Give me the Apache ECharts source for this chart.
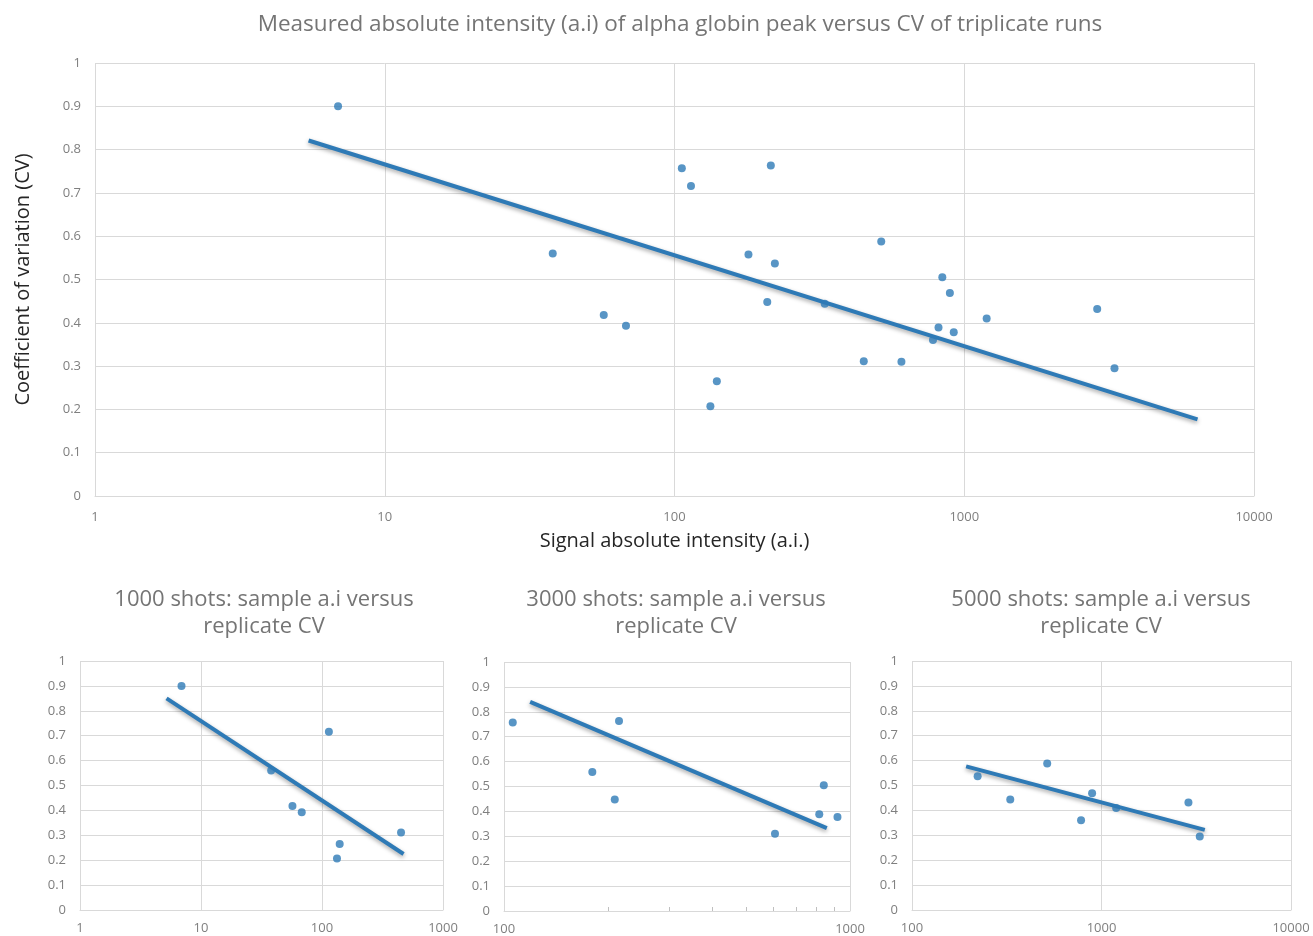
<!DOCTYPE html>
<html>
<head>
<meta charset="utf-8">
<title>alpha globin CV</title>
<script src="https://cdn.jsdelivr.net/npm/echarts@6/dist/echarts.min.js"></script>
<style>
    html, body { margin: 0; padding: 0; background: #fff; }
    #main { width: 1313px; height: 936px; }
</style>
</head>
<body>
<div id="main"></div>
<script>
// 数据: [信号强度 a.i, CV]
var shots1000 = [[6.9, 0.90], [38, 0.56], [57, 0.418], [68, 0.393], [114, 0.716], [133, 0.207], [140, 0.265], [450, 0.311]];
var shots3000 = [[106, 0.757], [180, 0.558], [209, 0.448], [215, 0.763], [607, 0.31], [815, 0.389], [840, 0.505], [920, 0.378]];
var shots5000 = [[222, 0.537], [330, 0.444], [517, 0.588], [780, 0.36], [892, 0.469], [1195, 0.41], [2876, 0.432], [3300, 0.295]];
var allShots = shots1000.concat(shots3000, shots5000);

// 趋势线两端
var trendAll = [[5.46, 0.821], [6383, 0.177]];
var trend1000 = [[5.19, 0.85], [472, 0.225]];
var trend3000 = [[119, 0.84], [857, 0.333]];
var trend5000 = [[193, 0.577], [3508, 0.322]];

var xRanges = [[1, 10000], [1, 1000], [100, 1000], [100, 10000]];
var yTicks = [0, 1, 0.1];

var mainTitle = 'Measured absolute intensity (a.i) of alpha globin peak versus CV of triplicate runs';
var subTitles = ['1000 shots: sample a.i versus\nreplicate CV', '3000 shots: sample a.i versus\nreplicate CV', '5000 shots: sample a.i versus\nreplicate CV'];

var blue = '#2e7ab6';
var gridColor = '#d9d9d9';
var labelColor = '#7f7f7f';
var font = '"Open Sans", "Noto Sans", sans-serif';

var myChart = echarts.init(document.getElementById('main'));

function makeX(i, extra) {
    var ax = {
        type: 'log',
        logBase: 10,
        gridIndex: i,
        min: xRanges[i][0],
        max: xRanges[i][1],
        axisLine: { lineStyle: { color: gridColor } },
        axisTick: { show: false, inside: true },
        splitLine: { show: true, lineStyle: { color: gridColor } },
        axisLabel: {
            color: labelColor,
            fontFamily: font,
            fontSize: 13,
            margin: i == 0 ? 15 : 12,
            formatter: function (v) { return String(v); }
        }
    };
    return Object.assign(ax, extra || {});
}

function makeY(i, extra) {
    var ax = {
        type: 'value',
        gridIndex: i,
        min: yTicks[0],
        max: yTicks[1],
        interval: yTicks[2],
        axisLine: { show: false },
        axisTick: { show: false },
        splitLine: { show: true, lineStyle: { color: gridColor } },
        axisLabel: {
            color: labelColor,
            fontFamily: font,
            fontSize: 13,
            margin: 14
        }
    };
    return Object.assign(ax, extra || {});
}

function dots(data, i) {
    return {
        type: 'scatter',
        xAxisIndex: i,
        yAxisIndex: i,
        data: data,
        symbolSize: 8,
        itemStyle: { color: blue },
        z: 3
    };
}

function trend(data, i) {
    return {
        type: 'line',
        xAxisIndex: i,
        yAxisIndex: i,
        data: data,
        symbol: 'none',
        lineStyle: {
            color: blue,
            width: 4,
            shadowBlur: 4,
            shadowColor: 'rgba(0,0,0,0.35)',
            shadowOffsetY: 2
        },
        z: 2
    };
}

var subTitleStyle = { color: '#757575', fontFamily: font, fontSize: 22, fontWeight: 'normal', lineHeight: 27 };

var option = {
    animation: false,
    title: [
        { text: mainTitle, left: 675, top: 8, textAlign: 'center', textStyle: { color: '#757575', fontFamily: font, fontSize: 22.5, fontWeight: 'normal' } },
        { text: subTitles[0], left: 259, top: 581, textAlign: 'center', textStyle: subTitleStyle },
        { text: subTitles[1], left: 671, top: 581, textAlign: 'center', textStyle: subTitleStyle },
        { text: subTitles[2], left: 1096, top: 581, textAlign: 'center', textStyle: subTitleStyle }
    ],
    grid: [
        { left: 95, right: 59, top: 63, bottom: 440 },
        { left: 80, right: 870, top: 661, bottom: 26 },
        { left: 504, right: 463, top: 662, bottom: 24 },
        { left: 912, right: 22, top: 661, bottom: 26 }
    ],
    xAxis: [
        makeX(0, {
            name: 'Signal absolute intensity (a.i.)',
            nameLocation: 'middle',
            nameGap: 35,
            nameTextStyle: { color: '#262626', fontFamily: font, fontSize: 20 }
        }),
        makeX(1),
        makeX(2, { minorTick: { show: true, splitNumber: 9, length: 4, lineStyle: { color: '#bfbfbf' } } }),
        makeX(3)
    ],
    yAxis: [
        makeY(0, {
            name: 'Coefficient of variation (CV)',
            nameLocation: 'middle',
            nameGap: 62,
            nameTextStyle: { color: '#262626', fontFamily: font, fontSize: 20 }
        }),
        makeY(1),
        makeY(2),
        makeY(3)
    ],
    series: [
        trend(trendAll, 0), dots(allShots, 0),
        trend(trend1000, 1), dots(shots1000, 1),
        trend(trend3000, 2), dots(shots3000, 2),
        trend(trend5000, 3), dots(shots5000, 3)
    ]
};

myChart.setOption(option);
</script>
</body>
</html>
